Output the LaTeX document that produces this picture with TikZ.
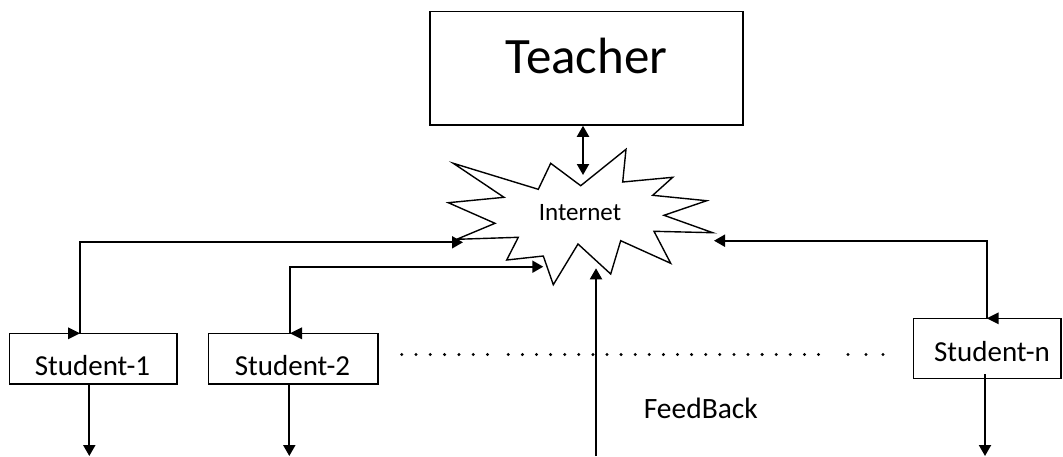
\documentclass[tikz,border=0pt]{standalone}
\usepackage{fontspec}
\setmainfont{Carlito}
\usetikzlibrary{arrows.meta}
\begin{document}
\begin{tikzpicture}[x=1pt,y=-1pt,
  box/.style={draw=black,line width=1.6pt,inner sep=0pt,fill=white},
  lbl/.style={anchor=base,inner sep=0pt},
  conn/.style={line width=2pt,-{Triangle[length=11pt,width=12pt]}},
  dbl/.style={line width=2pt,{Triangle[length=11pt,width=12pt]}-{Triangle[length=11pt,width=12pt]}},
  dotmark/.style={fill=black,circle,inner sep=0pt,minimum size=3.3pt}]
\useasboundingbox (0,0) rectangle (1063,456);
% Teacher
\node[box,minimum width=313pt,minimum height=113.3pt] (teacher) at (586.5,68.3) {};
\node[lbl,font=\fontsize{51}{53}\selectfont] (teachert) at (586.5,73) {Teacher};
% Internet star
\draw[line width=1.4pt,fill=white] (580.7,185.7) -- (626,149.3) -- (622.7,182) -- (672.7,177.3) -- (652.7,195.3) -- (706.7,200.7) -- (664,215.3) -- (712.7,232.7) -- (654,231.3) -- (670.7,263.3) -- (620.7,240.7) -- (610.7,274) -- (578,244) -- (553.3,284.7) -- (543.3,256) -- (506.7,260) -- (518.3,237.3) -- (456.7,239.3) -- (495,223.3) -- (448.3,202.7) -- (504,197.3) -- (453.3,163.3) -- (538.3,189.3) -- (550.7,163.3) -- cycle;
\node[lbl,font=\fontsize{25}{27}\selectfont] (inet) at (580,220) {Internet};
\coordinate (inetTop) at (583,175);
\coordinate (inetL1) at (463,242.3);
\coordinate (inetL2) at (543.3,266.7);
\coordinate (inetR) at (714,240.7);
\coordinate (inetB) at (596,268.3);
% Students
\node[box,minimum width=167.4pt,minimum height=50.7pt] (s1) at (93,358.7) {};
\node[lbl,font=\fontsize{29}{31}\selectfont] (s1t) at (92.5,375) {Student-1};
\node[box,minimum width=169.4pt,minimum height=50.7pt] (s2) at (293,358.7) {};
\node[lbl,font=\fontsize{29}{31}\selectfont] (s2t) at (292.5,375) {Student-2};
\node[box,minimum width=147.7pt,minimum height=60pt] (sn) at (987.2,348.3) {};
\node[lbl,font=\fontsize{29}{31}\selectfont] (snt) at (992,361.7) {Student-n};
\node[lbl,font=\fontsize{29.5}{31}\selectfont] (fb) at (700.8,418) {FeedBack};
% bottom ends
\coordinate (b1) at (89.3,456);
\coordinate (b2) at (289.3,456);
\coordinate (bn) at (985,456);
\coordinate (bf) at (596,456);
% connectors
\draw[dbl] (teacher.south -| inetTop) -- (inetTop);
\draw[conn] (s1.north -| 80,0) |- (inetL1);
\draw[conn] (s2.north -| 290,0) |- (inetL2);
\draw[conn] (sn.north -| 986.7,0) |- (inetR);
\draw[conn] (bf) -- (inetB);
\draw[conn] (s1.south -| b1) -- (b1);
\draw[conn] (s2.south -| b2) -- (b2);
\draw[conn] ([yshift=5pt]sn.south -| bn) -- (bn);
% arrowheads on box tops
\fill (80,333.3) -- (68,327.3) -- (68,339.3) -- cycle;
\fill (290,333.3) -- (302,327.3) -- (302,339.3) -- cycle;
\fill (986.7,318.3) -- (998.7,312.3) -- (998.7,324.3) -- cycle;
% dots
\foreach \xx in {401.7,416,430.3,444.6,458.9,473.2,487.5,848,866,883}
  \node[dotmark] at (\xx,354.5) {};
\foreach \k in {0,...,22}
  \node[dotmark] at ({508.3+14.1*\k},354.5) {};
\end{tikzpicture}
\end{document}
